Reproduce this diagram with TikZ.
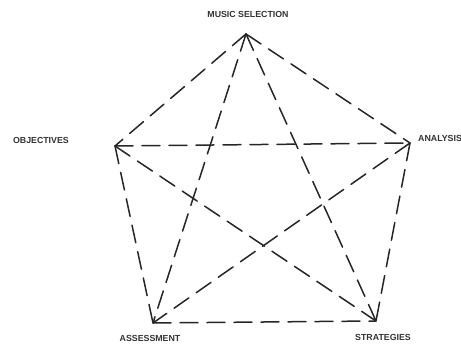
\documentclass[tikz,border=0pt]{standalone}
\usepackage{fontspec}
\setmainfont{Liberation Sans}
\begin{document}
\begin{tikzpicture}[x=1pt,y=1pt,
  edge/.style={line width=1.5pt, draw=black!85, dash pattern=on 18pt off 9pt, line cap=round},
  lbl/.style={font=\bfseries\fontsize{8.8}{10}\selectfont, text=black!80, inner sep=0pt}]
\useasboundingbox (0,0) rectangle (461,344);
\clip (0,0) rectangle (461,344);
\coordinate (M) at (246,310);
\coordinate (O) at (115,198);
\coordinate (A) at (410,201);
\coordinate (S) at (153,21);
\coordinate (T) at (376,23);
\foreach \a/\b in {M/O,M/A,M/S,M/T,O/A,O/S,O/T,A/S,A/T,S/T}{
  \draw[edge] (\a) -- (\b);
}
\node[lbl] (lm) at (248,330) {MUSIC SELECTION};
\node[lbl, anchor=east] (lo) at (69,204) {OBJECTIVES};
\node[lbl, anchor=west] (la) at (418,206) {ANALYSIS};
\node[lbl] (ls) at (150,6) {ASSESSMENT};
\node[lbl] (lt) at (383,7) {STRATEGIES};
\end{tikzpicture}
\end{document}
